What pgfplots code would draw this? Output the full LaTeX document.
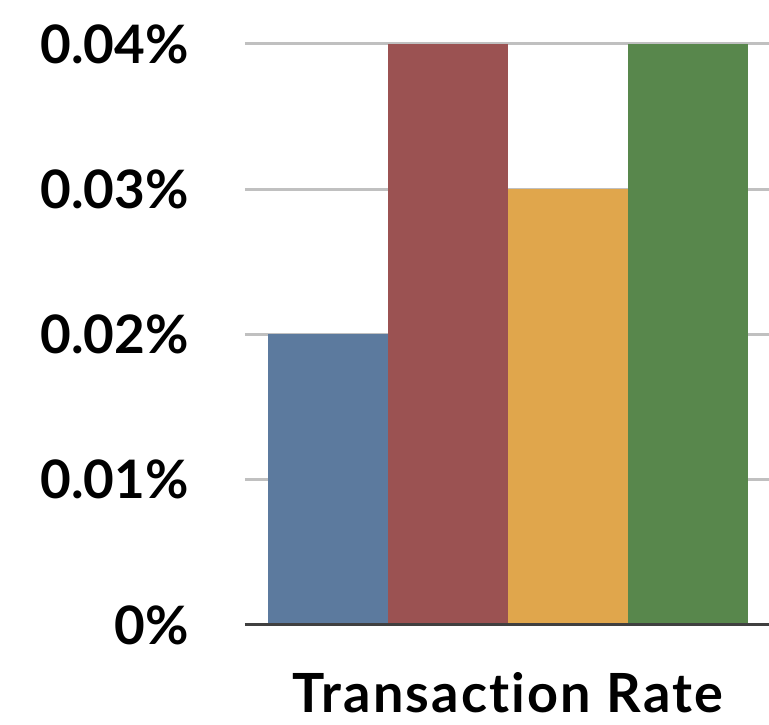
\documentclass[border=0pt]{standalone}
\usepackage{pgfplots}
\pgfplotsset{compat=1.18}
\usepackage{fontspec}
\setmainfont{Lato}[Ligatures=NoCommon]
\newfontfamily\titlefont{Lato}[Ligatures=NoCommon, LetterSpace=4, BoldFont={Lato Bold}]

\definecolor{barblue}{RGB}{92,122,158}
\definecolor{barred}{RGB}{155,82,82}
\definecolor{barorange}{RGB}{224,166,76}
\definecolor{bargreen}{RGB}{88,135,76}
\definecolor{gridgray}{RGB}{192,192,192}
\definecolor{basegray}{RGB}{64,64,64}

\begin{document}
\begin{tikzpicture}[x=1pt,y=1pt]
\useasboundingbox (0,0) rectangle (769,725);
\begin{axis}[
  at={(245pt,100pt)}, anchor=south west,
  scale only axis,
  width=524pt, height=581pt,
  xmin=-0.69, xmax=3.675,
  ymin=0, ymax=0.04,
  axis line style={draw=none},
  ybar, bar width=120pt, bar shift=0pt,
  ymajorgrids,
  scaled y ticks=false,
  ytick={0,0.01,0.02,0.03,0.04},
  yticklabels={0\%,0.01\%,0.02\%,0.03\%,0.04\%},
  xtick=\empty,
  grid style={gridgray, line width=3pt},
  major tick length=0pt,
  tick style={draw=none},
  yticklabel style={anchor=east, inner sep=0pt, xshift=-56pt,
    font=\fontsize{53}{60}\selectfont\bfseries},
  clip=false,
]
\addplot[fill=barblue, draw=none] coordinates {(0,0.02)};
\addplot[fill=barred, draw=none] coordinates {(1,0.04)};
\addplot[fill=barorange, draw=none] coordinates {(2,0.03)};
\addplot[fill=bargreen, draw=none] coordinates {(3,0.04)};
\draw[basegray, line width=3pt] (rel axis cs:0,0) -- (rel axis cs:1,0);
\node[anchor=base, inner sep=0pt, font=\titlefont\fontsize{54}{60}\selectfont\bfseries]
  at (axis cs:1.5,0) [yshift=-88pt] {Transaction Rate};
\end{axis}
\end{tikzpicture}
\end{document}
